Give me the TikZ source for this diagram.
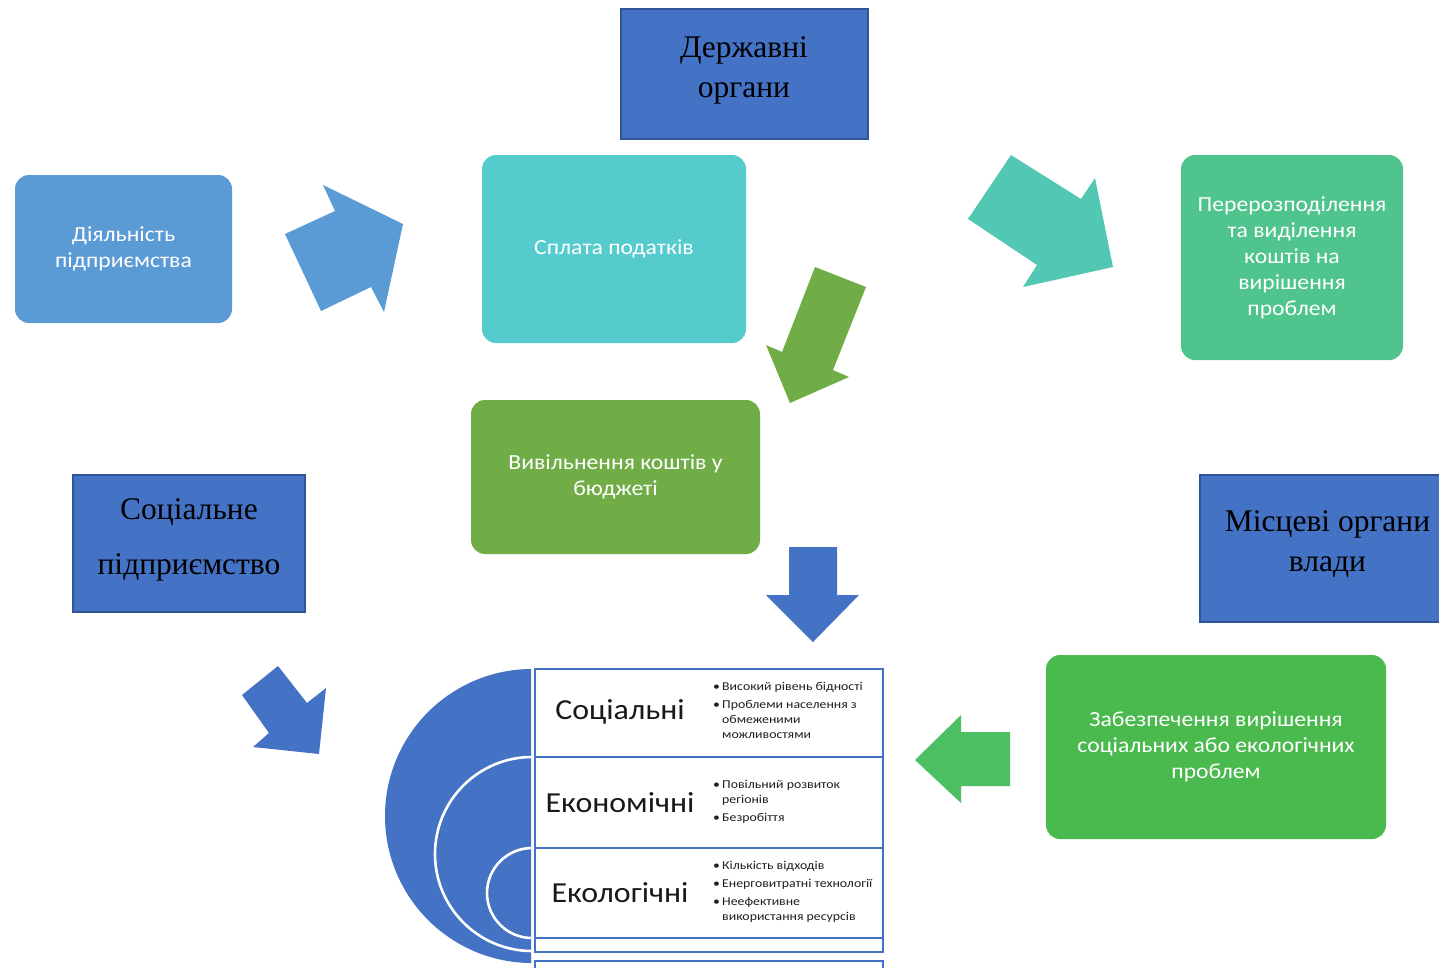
\documentclass[tikz,border=0pt]{standalone}
\usepackage{fontspec}
\setmainfont{Carlito}
\newfontfamily\titleserif{Liberation Serif}
\newfontfamily\widesans[FakeStretch=1.10]{Carlito}
\newfontfamily\notesans[FakeStretch=1.15]{Carlito}

\definecolor{dblue}{HTML}{4472C4}
\definecolor{bordblue}{HTML}{2F5597}
\definecolor{lblue}{HTML}{5B9BD5}
\definecolor{taxteal}{HTML}{55CBCD}
\definecolor{arrteal}{HTML}{52C8B4}
\definecolor{redgreen}{HTML}{4FC48C}
\definecolor{olgreen}{HTML}{70AD47}
\definecolor{ensgreen}{HTML}{4AB94E}
\definecolor{arrgreen}{HTML}{4CBF62}
\definecolor{rowline}{HTML}{4472C4}

\tikzset{
  rbox/.style={rounded corners=14pt, inner sep=0pt, text=white, align=center,
               font=\widesans\fontsize{21.5}{26}\selectfont},
  sqbox/.style={draw=bordblue, line width=1.2pt, fill=dblue, inner sep=0pt},
  serlabel/.style={align=center, inner sep=0pt, text=black},
  rowbox/.style={draw=rowline, line width=1.4pt},
  rowlabel/.style={font=\widesans\fontsize{29}{32}\selectfont, text=black!90, inner sep=0pt},
  bullets/.style={anchor=north west, align=left, inner sep=0pt, text=black!88,
                  font=\notesans\fontsize{12}{15}\selectfont},
}
\newcommand{\bul}{\llap{•\hspace{2.2pt}}}
\newcommand{\firstline}{\rule{0pt}{9pt}}

\begin{document}
\begin{tikzpicture}[x=1pt,y=-1pt]
\useasboundingbox (0,0) rectangle (1439,967);
\clip (0,0) rectangle (1439,967);

% government boxes with serif titles
\node[sqbox, minimum width=247, minimum height=130] (gov) at (744.5,74) {};
\node[serlabel, font=\titleserif\fontsize{31.5}{40}\selectfont] (govtxt) at (744,70) {Державні\\органи};

\node[sqbox, minimum width=232, minimum height=137] (soc) at (189,543.5) {};
\node[serlabel, font=\titleserif\fontsize{31.5}{55}\selectfont] (soctxt) at (189,539.5) {Соціальне\\підприємство};

\node[sqbox, minimum width=255, minimum height=147] (loc) at (1327.5,548.5) {};
\node[serlabel, font=\titleserif\fontsize{31.5}{40}\selectfont] (loctxt) at (1327.5,544) {Місцеві органи\\влади};

% rounded process boxes
\node[rbox, fill=lblue, minimum width=217, minimum height=148] (act) at (123.5,249)
  {Діяльність\\підприємства};
\node[rbox, fill=taxteal, minimum width=264, minimum height=188] (tax) at (614,249)
  {Сплата податків};
\node[rbox, fill=redgreen, minimum width=222, minimum height=205] (redis) at (1292,257.5)
  {Перерозподілення\\та виділення\\коштів на\\вирішення\\проблем};
\node[rbox, fill=olgreen, minimum width=289, minimum height=154] (free) at (615.5,477)
  {Вивільнення коштів у\\бюджеті};
\node[rbox, fill=ensgreen, minimum width=340, minimum height=184] (ens) at (1216,747)
  {Забезпечення вирішення\\соціальних або екологічних\\проблем};

% block arrows
\fill[lblue] (323,185) -- (335,211) -- (285,234) -- (321,311) -- (371,287)
  -- (384,312) -- (403,224) -- cycle;
\fill[olgreen] (815,267) -- (866,287) -- (833,370) -- (849,377) -- (790,403)
  -- (766,345) -- (782,352) -- cycle;
\fill[arrteal] (1011,155) -- (1081,199) -- (1095,178) -- (1113,267) -- (1023,287)
  -- (1037,265) -- (968,219) -- cycle;
\fill[dblue] (789,547) -- (837,547) -- (837,595) -- (859,595) -- (813,642)
  -- (766,595) -- (789,595) -- cycle;
\fill[dblue] (278,666) -- (307,703) -- (326,688) -- (319,754) -- (253,747)
  -- (269,733) -- (242,695) -- cycle;
\fill[arrgreen] (961,715) -- (961,732) -- (1010,732) -- (1010,786) -- (961,786)
  -- (961,803) -- (915,760) -- cycle;

% nested half discs
\begin{scope}
  \clip (0,0) rectangle (531,967);
  \fill[dblue] (532,816) circle[radius=147];
  \draw[white, line width=2.6pt] (532,854) circle[radius=97];
  \draw[white, line width=2.6pt] (532,893) circle[radius=45];
\end{scope}

% table of problem groups
\draw[rowbox] (535,669) rectangle (883,757);
\draw[rowbox] (535,757) rectangle (883,848);
\draw[rowbox] (535,848) rectangle (883,938);
\draw[rowbox] (535,938) rectangle (883,952);
\draw[rowbox] (535,961) rectangle (883,1000);

\node[rowlabel] (r1) at (620,712) {Соціальні};
\node[rowlabel] (r2) at (620,803) {Економічні};
\node[rowlabel] (r3) at (620,893) {Екологічні};

\node[bullets] (b1) at (722,681)
  {\firstline\bul Високий рівень бідності\\[3pt]
   \bul Проблеми населення з\\обмеженими\\можливостями};
\node[bullets] (b2) at (722,779)
  {\firstline\bul Повільний розвиток\\регіонів\\[3pt]
   \bul Безробіття};
\node[bullets] (b3) at (722,860)
  {\firstline\bul Кількість відходів\\[3pt]
   \bul Енерговитратні технології\\[3pt]
   \bul Неефективне\\використання ресурсів};
\end{tikzpicture}
\end{document}
